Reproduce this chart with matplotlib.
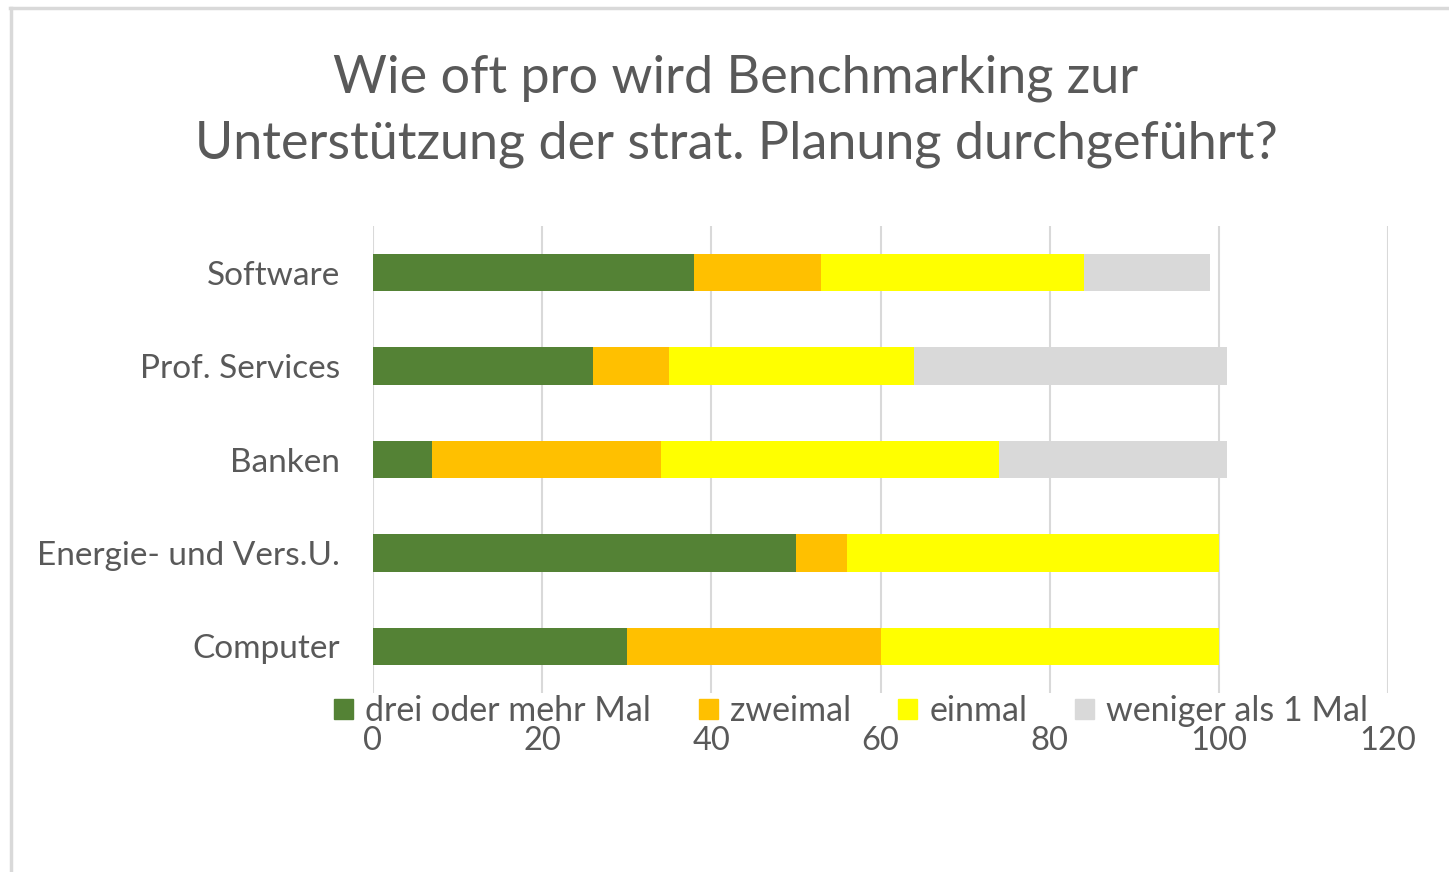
import matplotlib
matplotlib.use("Agg")
import matplotlib.pyplot as plt
from matplotlib.lines import Line2D
import numpy as np

plt.rcParams['font.family'] = ['Lato', 'DejaVu Sans']

categories = ["Software", "Prof. Services", "Banken", "Energie- und Vers.U.", "Computer"]
series_names = ["drei oder mehr Mal", "zweimal", "einmal", "weniger als 1 Mal"]
drei = [38, 26, 7, 50, 30]
zwei = [15, 9, 27, 6, 30]
ein = [31, 29, 40, 44, 40]
weniger = [15, 37, 27, 0, 0]
colors = ["#548235", "#FFC000", "#FFFF00", "#D9D9D9"]
xticks = [0, 20, 40, 60, 80, 100, 120]
title = "Wie oft pro wird Benchmarking zur\nUnterstützung der strat. Planung durchgeführt?"

W, H = 1449, 872
fig = plt.figure(figsize=(W / 100, H / 100), dpi=100)
text_col = "#595959"

ax = fig.add_axes([373 / W, 1 - 693 / H, (1388 - 373) / W, (693 - 226) / H])
y = np.arange(len(categories))[::-1]
series = [drei, zwei, ein, weniger]
left = np.zeros(len(categories))
handles = []
for vals, c, name in zip(series, colors, series_names):
    vals = np.array(vals, dtype=float)
    ax.barh(y, vals, left=left, height=0.4, color=c, label=name, zorder=3)
    left += vals
    handles.append(plt.Rectangle((0, 0), 1, 1, color=c))

ax.set_xlim(0, 120)
ax.set_ylim(-0.5, 4.5)
ax.set_xticks(xticks)
ax.set_xticklabels([str(t) for t in xticks])
ax.set_yticks(y)
ax.set_yticklabels(categories)
ax.grid(axis='x', color="#D9D9D9", linewidth=1.5, zorder=0)
for s in ax.spines.values():
    s.set_visible(False)
ax.tick_params(axis='x', length=0, colors=text_col, labelsize=23.5, pad=24)
ax.tick_params(axis='y', length=0, colors=text_col, labelsize=24, pad=24)

fig.text(736 / W, 1 - 111 / H, title, ha='center', va='center', fontsize=37.5,
         color=text_col, linespacing=1.5)

fig.legend(handles, series_names, loc='center', bbox_to_anchor=(851 / W, 1 - 711 / H),
           ncol=4, frameon=False, fontsize=24.5, handlelength=0.56, handleheight=0.56,
           handletextpad=0.35, columnspacing=1.4, labelcolor=text_col, borderpad=0)

# outer frame (top and left edges visible)
fig.add_artist(Line2D([10 / W, 1.0], [1 - 8 / H, 1 - 8 / H], color="#D9D9D9", linewidth=2.5,
                      transform=fig.transFigure))
fig.add_artist(Line2D([11 / W, 11 / W], [1 - 8 / H, 0], color="#D9D9D9", linewidth=2.5,
                      transform=fig.transFigure))

fig.savefig("out.png", dpi=100)
